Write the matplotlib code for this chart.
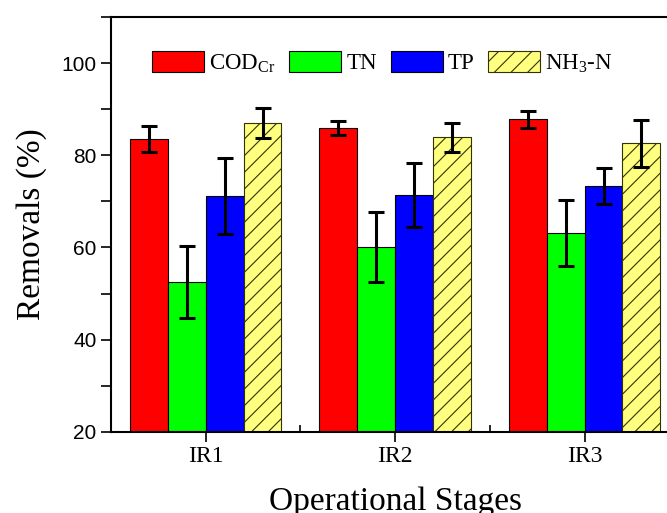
import numpy as np
import matplotlib.pyplot as plt
from matplotlib.ticker import MultipleLocator, FixedLocator

# stages and removal data (%)
stages = ['IR1', 'IR2', 'IR3']
cod = [83.6, 86.0, 87.8]
cod_err = [2.8, 1.5, 1.8]
tn = [52.5, 60.1, 63.2]
tn_err = [7.8, 7.6, 7.2]
tp = [71.2, 71.4, 73.3]
tp_err = [8.2, 7.0, 3.9]
nh3 = [87.0, 83.9, 82.6]
nh3_err = [3.2, 3.1, 5.1]

plt.rcParams['hatch.color'] = '#333300'
plt.rcParams['hatch.linewidth'] = 0.8
plt.rcParams['mathtext.fontset'] = 'custom'
plt.rcParams['mathtext.rm'] = 'Liberation Serif'

fig = plt.figure(figsize=(6.67, 5.13), dpi=100)
ax = fig.add_axes([0.1664, 0.158, 0.852, 0.809])

x = np.arange(1, len(stages) + 1)
w = 0.2
ekw = dict(elinewidth=2.2, capthick=2.2, ecolor='black')

ax.bar(x - 1.5*w, cod, w, yerr=cod_err, color='#ff0000', edgecolor='black',
       linewidth=0.8, capsize=6, error_kw=ekw, label='COD$_{\\mathregular{Cr}}$')
ax.bar(x - 0.5*w, tn, w, yerr=tn_err, color='#00ff00', edgecolor='black',
       linewidth=0.8, capsize=6, error_kw=ekw, label='TN')
ax.bar(x + 0.5*w, tp, w, yerr=tp_err, color='#0000ff', edgecolor='black',
       linewidth=0.8, capsize=6, error_kw=ekw, label='TP')
ax.bar(x + 1.5*w, nh3, w, yerr=nh3_err, color='#ffff80', edgecolor='#333300',
       linewidth=0.8, hatch='//', capsize=6, error_kw=ekw,
       label='NH$_{\\mathregular{3}}$-N')

ax.set_xlim(0.5, 3.5)
ax.set_ylim(20, 110)
ax.set_xticks(x)
ax.set_xticklabels(stages, family='Liberation Serif', fontsize=17)
ax.xaxis.set_minor_locator(FixedLocator([1.5, 2.5]))
ax.set_yticks([20, 40, 60, 80, 100])
ax.yaxis.set_minor_locator(MultipleLocator(10))
for lab in ax.get_yticklabels():
    lab.set_family('Liberation Sans')
    lab.set_fontsize(15)

ax.tick_params(axis='y', which='both', direction='out', length=7, width=1.2)
ax.tick_params(axis='x', which='major', direction='out', length=7, width=1.2, pad=3)
ax.tick_params(axis='x', which='minor', direction='in', length=5, width=1.2)
for s in ax.spines.values():
    s.set_linewidth(1.5)

ax.set_xlabel('Operational Stages', family='Liberation Serif', fontsize=24, labelpad=14)
ax.set_ylabel('Removals (%)', family='Liberation Serif', fontsize=24, labelpad=10)

ax.legend(loc='upper left', bbox_to_anchor=(0.056, 0.94), ncol=4, frameon=False,
          prop={'family': 'Liberation Serif', 'size': 16.5},
          handlelength=2.27, handleheight=1.0, columnspacing=0.6, handletextpad=0.22,
          borderaxespad=0)

fig.savefig('out.png', dpi=100)
